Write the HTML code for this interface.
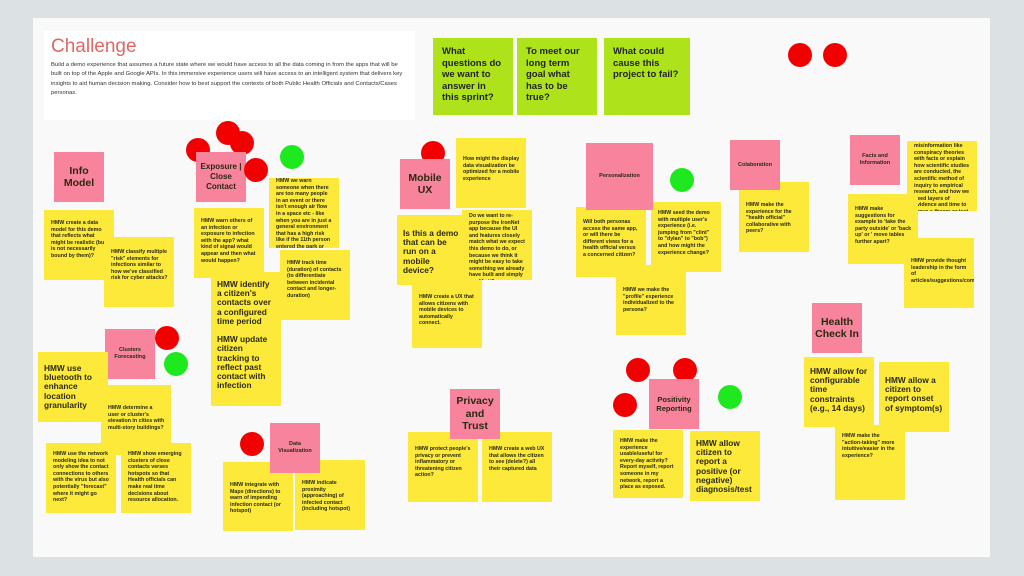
<!DOCTYPE html>
<html><head><meta charset="utf-8"><style>
body{margin:0;width:1024px;height:576px;background:#dce2e3;position:relative;overflow:hidden;font-family:"Liberation Sans",sans-serif}
#b{position:absolute;left:33px;top:18px;width:957px;height:539px;background:#f9f9f9}
.y,.p,.g{position:absolute;box-sizing:border-box;color:#2a2a10;font-weight:bold}
.y{background:#fce93a;width:70px;height:70px;font-size:5.3px;line-height:6.6px;padding:10px 6px 4px 7px;overflow:hidden}
.y.big{font-size:8.3px;line-height:9.2px;padding:8px 6px}
.p{background:#f7839d;width:50px;height:50px;display:flex;align-items:center;justify-content:center;text-align:center;font-size:5.5px;line-height:7px;padding:3px}
.p.big{font-size:10.5px;line-height:12.5px}
.g{background:#aee31c;width:80px;height:77px;font-size:9.5px;line-height:11.5px;padding:8px 9px;color:#222}
.d{position:absolute;width:24px;height:24px;border-radius:50%;background:#f20000;margin:-12px 0 0 -12px}
.d.gr{background:#1ee81e}
</style></head><body>
<div id="b"></div>
<div style="position:absolute;left:44px;top:31px;width:371px;height:89px;background:#fff;padding:5px 7px;box-sizing:border-box">
<div style="color:#e06666;font-size:19px;line-height:22px">Challenge</div>
<div style="font-size:5.9px;line-height:9.3px;color:#333;margin-top:3px">Build a demo experience that assumes a future state where we would have access to all the data coming in from the apps that will be built on top of the Apple and Google APIs. In this immersive experience users will have access to an intelligent system that delivers key insights to aid human decision making. Consider how to best support the contexts of both Public Health Officials and Contacts/Cases personas.</div></div>
<div class="g" style="left:433px;top:38px">What questions do we want to answer in this sprint?</div>
<div class="g" style="left:517px;top:38px">To meet our long term goal what has to be true?</div>
<div class="g" style="left:604px;top:38px;width:86px">What could cause this project to fail?</div>
<div class="d" style="left:800px;top:55px"></div><div class="d" style="left:835px;top:55px"></div>

<div class="p big" style="left:54px;top:152px">Info Model</div>
<div class="y" style="left:44px;top:210px">HMW create a data model for this demo that reflects what might be realistic (but is not necessarily bound by them)?</div>
<div class="y" style="left:104px;top:237px;padding-top:12px">HMW classify multiple "risk" elements for infections similar to how we've classified risk for cyber attacks?</div>

<div class="d" style="left:198px;top:150px"></div><div class="d" style="left:228px;top:133px"></div><div class="d" style="left:242px;top:143px"></div>
<div class="p" style="left:196px;top:152px;font-size:8px;line-height:10px">Exposure | Close Contact</div>
<div class="d" style="left:256px;top:170px"></div><div class="d gr" style="left:292px;top:157px"></div>
<div class="y" style="left:194px;top:208px">HMW warn others of an infection or exposure to infection with the app? what kind of signal would appear and then what would happen?</div>
<div class="y" style="left:269px;top:178px;padding-top:0">HMW we warn someone when there are too many people in an event or there isn't enough air flow in a space etc - like when you are in just a general environment that has a high risk like if the 11th person entered the park or pool</div>
<div class="y" style="left:280px;top:250px">HMW track time (duration) of contacts (to differentiate between incidental contact and longer-duration)</div>
<div class="y big" style="left:211px;top:272px;height:134px">HMW identify a citizen's contacts over a configured time period<br><br>HMW update citizen tracking to reflect past contact with infection</div>

<div class="p" style="left:105px;top:329px">Clusters Forecasting</div>
<div class="d" style="left:167px;top:338px"></div><div class="d gr" style="left:176px;top:364px"></div>
<div class="y big" style="left:38px;top:352px;padding-top:12px">HMW use bluetooth to enhance location granularity</div>
<div class="y" style="left:101px;top:385px;padding-top:20px">HMW determine a user or cluster's elevation in cities with multi-story buildings?</div>
<div class="y" style="left:46px;top:443px;padding-top:8px">HMW use the network modeling idea to not only show the contact connections to others with the virus but also potentially "forecast" where it might go next?</div>
<div class="y" style="left:121px;top:443px;padding-top:8px">HMW show emerging clusters of close contacts verses hotspots so that Health officials can make real time decisions about resource allocation.</div>
<div class="d" style="left:252px;top:444px"></div>
<div class="y" style="left:223px;top:462px;height:69px;padding-top:20px">HMW integrate with Maps (directions) to warn of impending infection contact (or hotspot)</div>
<div class="y" style="left:295px;top:460px;padding-top:20px">HMW indicate proximity (approaching) of infected contact (including hotspot)</div>
<div class="p" style="left:270px;top:423px">Data Visualization</div>

<div class="d" style="left:433px;top:153px"></div>
<div class="p big" style="left:400px;top:159px">Mobile UX</div>
<div class="y" style="left:456px;top:138px;padding-top:18px">How might the display data visualization be optimized for a mobile experience</div>
<div class="y big" style="left:397px;top:215px;padding-top:14px">Is this a demo that can be run on a mobile device?</div>
<div class="y" style="left:462px;top:210px;padding-top:3px">Do we want to re-purpose the IronNet app because the UI and features closely match what we expect this demo to do, or because we think it might be easy to take something we already have built and simply modify it?</div>
<div class="y" style="left:412px;top:280px;height:68px;padding-top:14px">HMW create a UX that allows citizens with mobile devices to automatically connect.</div>

<div class="y" style="left:576px;top:207px;padding-top:12px">Will both personas access the same app, or will there be different views for a health official versus a concerned citizen?</div>
<div class="y" style="left:651px;top:202px;padding-top:8px">HMW seed the demo with multiple user's experience (i.e. jumping from "clint" to "dylan" to "bob") and how might the experience change?</div>
<div class="p" style="left:586px;top:143px;width:67px;height:67px">Personalization</div>
<div class="d gr" style="left:682px;top:180px"></div>
<div class="y" style="left:616px;top:265px;padding-top:22px">HMW we make the "profile" experience individualized to the persona?</div>

<div class="y" style="left:739px;top:182px;padding-top:20px">HMW make the experience for the "health official" collaborative with peers?</div>
<div class="p" style="left:730px;top:140px">Colaboration</div>
<div class="y" style="left:907px;top:141px;padding-top:2px">misinformation like conspiracy theories with facts or explain how scientific studies are conducted, the scientific method of inquiry to empirical research, and how we need layers of evidence and time to prove a theory or test</div>
<div class="p" style="left:850px;top:135px">Facts and Information</div>
<div class="y" style="left:848px;top:194px;padding-top:12px">HMW make suggestions for example to 'take the party outside' or 'back up' or ' move tables further apart?</div>
<div class="y" style="left:904px;top:238px;padding-top:20px">HMW provide thought leadership in the form of articles/suggestions/comments/tips</div>

<div class="p big" style="left:812px;top:303px">Health Check In</div>
<div class="y" style="left:835px;top:425px;height:75px;padding-top:8px">HMW make the "action-taking" more intuitive/easier in the experience?</div>
<div class="y big" style="left:804px;top:357px;padding-top:10px">HMW allow for configurable time constraints (e.g., 14 days)</div>
<div class="y big" style="left:879px;top:362px;padding-top:14px">HMW allow a citizen to report onset of symptom(s)</div>

<div class="y" style="left:408px;top:432px;padding-top:14px">HMW protect people's privacy or prevent inflammatory or threatening citizen action?</div>
<div class="y" style="left:482px;top:432px;padding-top:14px">HMW create a web UX that allows the citizen to see (delete?) all their captured data</div>
<div class="p big" style="left:450px;top:389px">Privacy and Trust</div>

<div class="d" style="left:638px;top:370px"></div><div class="d" style="left:685px;top:370px"></div><div class="d" style="left:625px;top:405px"></div><div class="d gr" style="left:730px;top:397px"></div>
<div class="y" style="left:613px;top:430px;height:68px;padding-top:8px">HMW make the experience usable/useful for every-day activity? Report myself, report someone in my network, report a place as exposed.</div>
<div class="y big" style="left:690px;top:431px;padding-top:8px">HMW allow citizen to report a positive (or negative) diagnosis/test</div>
<div class="p" style="left:649px;top:379px;font-size:7.5px;line-height:9px">Positivity Reporting</div>
</body></html>
